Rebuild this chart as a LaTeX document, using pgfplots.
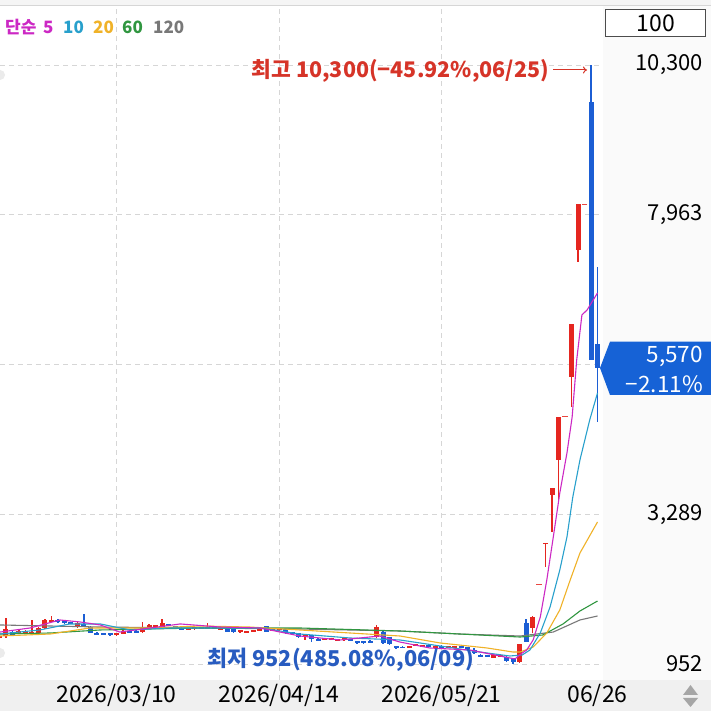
\documentclass[border=0pt]{standalone}
\usepackage{fontspec}
\setmainfont{Noto Sans CJK KR}
\usepackage{pgfplots}
\pgfplotsset{compat=1.18}
\usepackage{pgfplotstable}
\usetikzlibrary{arrows.meta}

\definecolor{cup}{RGB}{229,38,32}
\definecolor{cdn}{RGB}{28,94,212}
\definecolor{cma5}{RGB}{204,40,196}
\definecolor{cma10}{RGB}{40,160,204}
\definecolor{cma20}{RGB}{240,178,40}
\definecolor{cma60}{RGB}{48,150,64}
\definecolor{cma120}{RGB}{120,120,120}
\definecolor{cgrid}{RGB}{214,214,214}
\definecolor{chi}{RGB}{214,52,40}
\definecolor{clo}{RGB}{40,92,192}
\definecolor{cbox}{RGB}{22,98,214}
\definecolor{cpanel}{RGB}{250,250,250}
\definecolor{cband}{RGB}{240,240,240}

% candles: index (06/26 = 92), open, high, low, close
\pgfplotstableread{
i  o     h     l     c
0  1360  1395  1350  1390
1  1389  1670  1358  1498
3  1435  1475  1425  1465
4  1440  1480  1430  1470
5  1420  1639  1410  1451
6  1436  1530  1425  1514
7  1514  1650  1505  1639
8  1610  1705  1600  1640
12 1530  1600  1520  1592
18 1405  1435  1395  1435
19 1420  1475  1415  1467
22 1451  1608  1440  1529
23 1514  1570  1505  1561
24 1535  1565  1530  1565
25 1529  1654  1520  1592
29 1480  1510  1475  1510
30 1495  1525  1490  1525
31 1500  1530  1495  1530
32 1505  1590  1500  1535
33 1498  1522  1492  1525
34 1492  1520  1488  1520
37 1445  1475  1440  1475
38 1440  1470  1435  1468
39 1460  1490  1455  1488
40 1470  1500  1465  1498
42 1465  1495  1460  1493
43 1478  1505  1470  1505
47 1385  1418  1327  1415
50 1325  1355  1320  1355
51 1330  1360  1325  1360
52 1315  1345  1310  1345
53 1328  1365  1315  1355
58 1373  1561  1365  1529
63 1205  1235  1200  1235
64 1235  1268  1228  1262
65 1225  1255  1220  1252
67 1210  1240  1205  1238
69 1207  1235  1203  1234
70 1210  1238  1205  1236
76 1045  1100  1040  1092
77 1062  1100  1055  1092
80 983   1270  975   1264
82 1514  1700  1436  1686
84 2830  2845  2471  2845
85 3590  3699  3017  3699
86 4136  4809  3480  4809
88 5436  6252  4967  6252
89 7413  8128  7230  8128
}\upT

\pgfplotstableread{
i  o     h     l     c
2  1451  1467  1395  1405
9  1645  1650  1595  1615
10 1620  1625  1580  1590
11 1605  1612  1570  1575
13 1580  1732  1540  1550
14 1529  1540  1430  1436
15 1440  1445  1400  1412
16 1435  1440  1405  1405
17 1432  1438  1395  1402
20 1468  1472  1440  1440
21 1467  1475  1435  1440
26 1578  1582  1540  1540
27 1538  1542  1505  1508
28 1518  1522  1475  1488
35 1514  1520  1445  1451
36 1529  1535  1440  1451
41 1545  1550  1445  1451
44 1498  1505  1420  1436
45 1451  1455  1410  1420
46 1436  1440  1365  1373
48 1405  1410  1295  1342
49 1348  1350  1310  1318
54 1338  1342  1305  1308
55 1312  1318  1270  1280
56 1305  1318  1270  1275
57 1315  1328  1280  1285
59 1451  1460  1270  1280
60 1373  1380  1255  1264
61 1233  1240  1185  1205
62 1225  1228  1195  1195
66 1242  1248  1212  1212
68 1230  1242  1198  1200
71 1228  1232  1198  1198
72 1212  1216  1175  1182
73 1170  1200  1110  1125
74 1098  1102  1060  1068
75 1088  1092  1058  1058
78 1061  1070  990   999
79 1045  1050  952   990
81 1597  1654  1295  1300
91 9727  10300 5690  5690
92 5946  7148  4729  5570
}\downT

% one-price days
\pgfplotstableread{
i  p
83 2190
87 4809
90 8128
}\flatT

\pgfplotsset{
  wick/.style={draw=none, mark=none, forget plot,
    error bars/.cd, y dir=both, y explicit, error mark=none,
    error bar style={line width=1.1bp, draw=#1, solid}},
  body/.style={draw=none, mark=none, forget plot,
    error bars/.cd, y dir=both, y explicit, error mark=none,
    error bar style={line width=5bp, draw=#1, solid}},
  ma/.style={#1, line width=1.1bp, mark=none, line join=round},
}

\newcommand\candles[2]{%
  \addplot[wick=#2] table[x=i, y expr={(\thisrow{h}+\thisrow{l})/2},
    y error expr={(\thisrow{h}-\thisrow{l})/2}] {#1};
  \addplot[body=#2] table[x=i, y expr={(\thisrow{o}+\thisrow{c})/2},
    y error expr={abs(\thisrow{c}-\thisrow{o})/2}] {#1};
}

\begin{document}
\begin{tikzpicture}
\useasboundingbox (0,0) rectangle (711bp,711bp);
\fill[white] (0,0) rectangle (711bp,711bp);
\fill[cpanel] (603bp,31bp) rectangle (711bp,706bp);
\fill[cband!70] (0,706bp) rectangle (711bp,711bp);
\draw[cgrid, line width=0.8bp] (0,706bp) -- (711bp,706bp);
\fill[cband] (0,0) rectangle (711bp,31bp);
\fill[black!8] (0,636bp) circle (5bp);
\fill[black!8] (0,58bp) circle (5bp);

\begin{axis}[
  at={(0,31bp)}, anchor=south west,
  scale only axis, width=603bp, height=675bp,
  xmin=0.077, xmax=92.846, ymin=702.3, ymax=11236.4,
  scaled y ticks=false, scaled x ticks=false,
  axis line style={draw=none}, tick style={draw=none},
  xtick={18,43,68}, xticklabels={2026/03/10,2026/04/14,2026/05/21},
  extra x ticks={92}, extra x tick labels={06/26},
  extra x tick style={grid=none},
  ytick={952,3289,5626,7963,10300},
  yticklabels={952,{3,289},{},{7,963},{10,300}},
  yticklabel pos=right,
  xmajorgrids, ymajorgrids,
  grid style={cgrid, line width=0.8bp, dash pattern=on 5bp off 4bp},
  xticklabel style={anchor=center, inner sep=0pt, yshift=-15bp,
    font=\fontsize{23bp}{26bp}\selectfont},
  yticklabel style={anchor=east, inner sep=0pt, xshift=100bp,
    font=\fontsize{22bp}{26bp}\selectfont},
]
\candles{\upT}{cup}
\candles{\downT}{cdn}
\addplot[draw=none, mark=-, mark size=2.6bp, forget plot,
  mark options={line width=1.2bp, draw=cup!85}] table[x=i, y=p] {\flatT};

% moving averages 120, 60, 20, 10, 5
\addplot[ma=cma120] coordinates {(0.1,1561) (15.5,1529) (30.8,1514) (46.2,1498)
  (61.6,1467) (70.8,1420) (80.1,1389) (85.2,1451) (89.3,1639) (92,1701)};
\addplot[ma=cma60] coordinates {(0.1,1420) (7.8,1436) (15.5,1483) (30.8,1514)
  (46.2,1514) (61.6,1467) (70.8,1420) (80.1,1373) (83.6,1405) (86.7,1577)
  (89.3,1779) (92,1935)};
\addplot[ma=cma20] coordinates {(0.1,1389) (7.8,1420) (13.9,1514) (23.2,1514)
  (30.8,1545) (38.5,1529) (46.2,1483) (53.9,1436) (61.6,1389) (67.8,1280)
  (75,1202) (79,1139) (80.1,1139) (82.1,1217) (84.2,1436) (86.2,1795)
  (87.8,2263) (89.3,2684) (92,3168)};
\addplot[ma=cma10] coordinates {(0.1,1420) (6.2,1483) (10.8,1577) (15.5,1577)
  (20.1,1483) (26.2,1514) (33.9,1514) (40.1,1514) (46.2,1420) (53.9,1358)
  (61.6,1327) (67.8,1233) (73.9,1139) (78.5,1077) (80.4,1092) (81.6,1170)
  (83.2,1436) (84.7,1841) (86.2,2419) (87.3,2934) (88.2,3558) (89.3,4136)
  (90.8,4760) (92,5181)};
\addplot[ma=cma5] coordinates {(0.1,1451) (4.7,1514) (9.3,1639) (12.4,1608)
  (15.5,1561) (18.5,1451) (23.2,1514) (27.8,1577) (33.9,1529) (40.1,1514)
  (46.2,1389) (52.4,1327) (58.5,1389) (61.6,1295) (66.2,1202) (72.4,1170)
  (77,1077) (79.3,1030) (80.4,1123) (81.1,1170) (82.1,1327) (83.2,1686)
  (84.2,2263) (85.2,2934) (86.2,3621) (87.3,4245) (88.1,4807) (88.8,5696)
  (89.6,6399) (90.4,6477) (92,6742)};
\end{axis}

% legend
\begin{scope}[every node/.style={anchor=west, inner sep=0pt,
    font=\fontsize{17bp}{20bp}\selectfont\bfseries}]
\node[text=cma5] at (5bp,684bp) {단순};
\node[text=cma5] at (43bp,684bp) {5};
\node[text=cma10] at (63bp,684bp) {10};
\node[text=cma20] at (93bp,684bp) {20};
\node[text=cma60] at (122bp,684bp) {60};
\node[text=cma120] at (153bp,684bp) {120};
\end{scope}

% period box
\draw[black!70, fill=white, line width=1bp] (605bp,674bp) rectangle (705bp,701bp);
\node[font=\fontsize{23bp}{26bp}\selectfont] at (656bp,687.5bp) {100};

% current price tag
\fill[cbox] (600bp,343bp) -- (610bp,369.3bp) -- (711bp,369.3bp)
  -- (711bp,316bp) -- (610bp,316bp) -- cycle;
\node[anchor=east, inner sep=0pt, text=white, font=\fontsize{22.5bp}{26bp}\selectfont]
  at (703bp,355bp) {5,570};
\node[anchor=east, inner sep=0pt, text=white, font=\fontsize{22.5bp}{26bp}\selectfont]
  at (703bp,327bp) {−2.11\%};

% high / low notes
\node[anchor=east, inner sep=0pt, text=chi, font=\fontsize{21.5bp}{26bp}\selectfont\bfseries]
  at (549bp,640bp) {최고 10,300(−45.92\%,06/25)};
\draw[chi, line width=1bp, -{To[length=4bp,width=7bp]}] (553bp,641bp) -- (587bp,641bp);
\node[anchor=west, inner sep=0pt, text=clo, font=\fontsize{21.8bp}{26bp}\selectfont\bfseries]
  at (207bp,51bp) {최저 952(485.08\%,06/09)};

% scroll arrows
\fill[black!35] (683bp,16bp) -- (698bp,16bp) -- (690.5bp,26bp) -- cycle;
\fill[black!35] (683bp,13bp) -- (698bp,13bp) -- (690.5bp,4bp) -- cycle;
\end{tikzpicture}
\end{document}
